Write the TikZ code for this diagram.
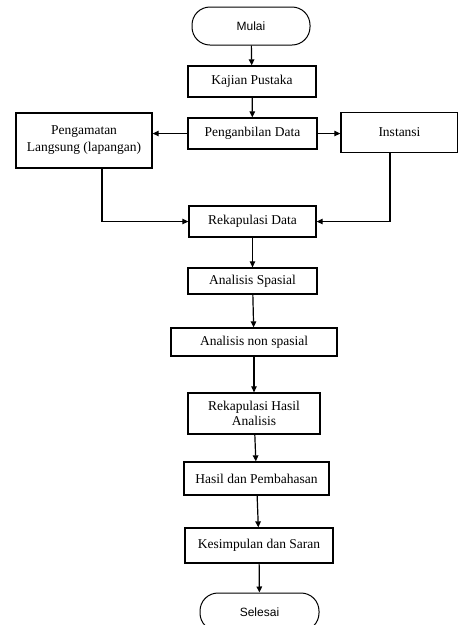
\documentclass[tikz,border=0pt]{standalone}
\usepackage{fontspec}
\setmainfont{Liberation Serif}
\newfontfamily\arialfont{Liberation Sans}
\usetikzlibrary{arrows.meta}
\begin{document}
\begin{tikzpicture}[x=1pt,y=-1pt,
 box/.style={draw, line width=1.3pt, inner sep=0pt, align=center, font=\fontsize{13.5}{14.5}\selectfont},
 term/.style={draw, line width=1pt, rounded corners=18pt, inner sep=0pt, font=\arialfont\fontsize{12}{14}\selectfont},
 arr/.style={line width=1.2pt, -{Triangle[length=6pt,width=5.5pt]}}]
\useasboundingbox (0,0) rectangle (458,625);
\node[term, minimum width=118pt, minimum height=38pt] (mulai) at (251,26) {Mulai};
\node[box, minimum width=128pt, minimum height=31pt] (kaj) at (252,81.5) {Kajian Pustaka};
\node[box, minimum width=129pt, minimum height=31pt] (pgb) at (252.5,133.5) {Penganbilan Data};
\node[box, minimum width=136pt, minimum height=55pt, font=\fontsize{13.5}{17}\selectfont] (peng) at (84,140.5) {Pengamatan\\Langsung (lapangan)};
\node[box, minimum width=117pt, minimum height=40pt] (inst) at (399.5,132.5) {Instansi};
\node[box, minimum width=127pt, minimum height=31pt] (rek) at (252.5,221.5) {Rekapulasi Data};
\node[box, minimum width=129pt, minimum height=26pt] (spa) at (252.5,281) {Analisis Spasial};
\node[box, minimum width=166pt, minimum height=28pt] (non) at (254,342) {Analisis non spasial};
\node[box, minimum width=132pt, minimum height=41pt] (rha) at (254,413.5) {Rekapulasi Hasil\\Analisis};
\node[box, minimum width=145pt, minimum height=33pt] (has) at (256.5,478.5) {Hasil dan Pembahasan};
\node[box, minimum width=148pt, minimum height=35pt] (kes) at (259,545.5) {Kesimpulan dan Saran};
\node[term, minimum width=119pt, minimum height=38pt] (sel) at (259.5,612) {Selesai};
\draw[arr] (mulai) -- (kaj);
\draw[arr] (kaj) -- (pgb);
\draw[arr] (pgb.west) -- (pgb.west -| peng.east);
\draw[arr] (pgb.east) -- (pgb.east -| inst.west);
\draw[arr] ([xshift=18pt]peng.south) |- (rek.west);
\draw[arr] ([xshift=-9.5pt]inst.south) |- (rek.east);
\draw[arr] (rek) -- (spa);
\draw[arr] (spa) -- (non);
\draw[arr] (non) -- (rha);
\draw[arr] (rha) -- (has);
\draw[arr] (has) -- (kes);
\draw[arr] (kes) -- (sel);
\end{tikzpicture}
\end{document}
